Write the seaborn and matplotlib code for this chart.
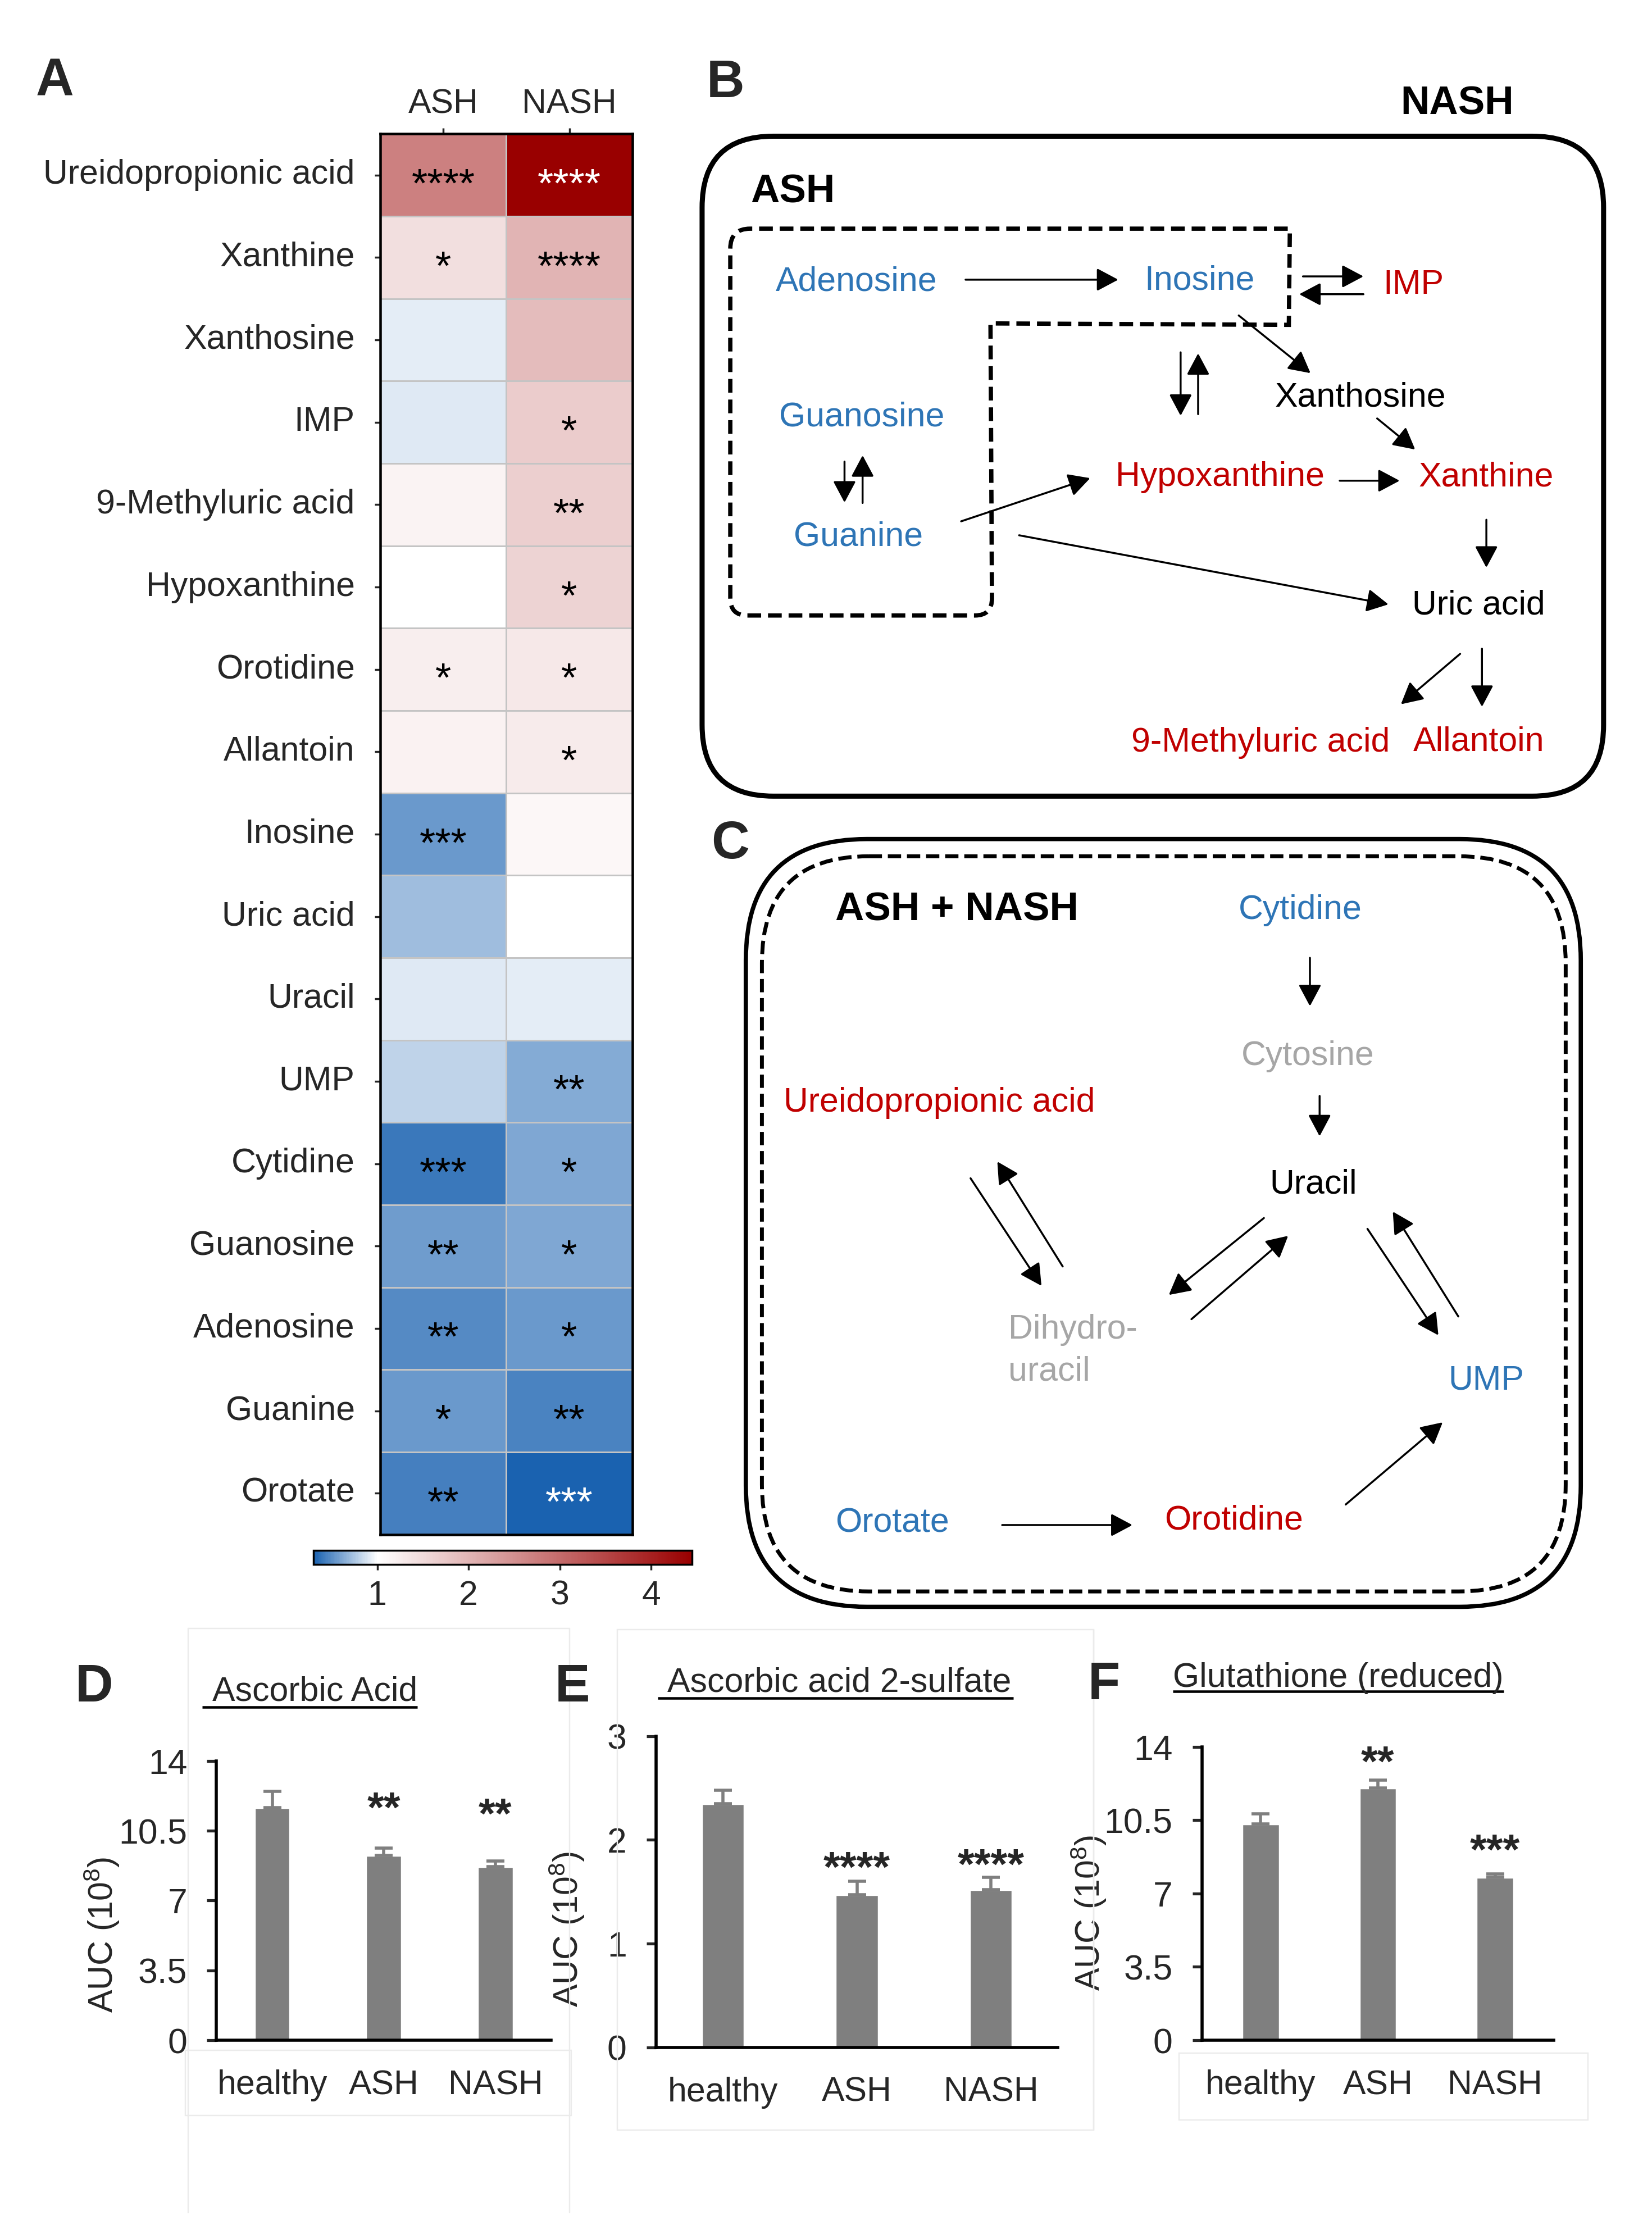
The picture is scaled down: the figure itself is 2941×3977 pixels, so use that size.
import matplotlib
matplotlib.use("Agg")
import matplotlib.pyplot as plt
import numpy as np
import pandas as pd
import seaborn as sns
from matplotlib import font_manager
from matplotlib.colors import LinearSegmentedColormap
from matplotlib.patches import FancyBboxPatch, PathPatch
from matplotlib.path import Path

# layout grid: the reference at ~1/2.535 scale (1160 x 1568 units)
W, H = 1160, 1568
DPI = 250

BLUE = "#2e75b6"
RED = "#c00000"
GREY_TXT = "#a6a6a6"
BAR = "#7f7f7f"
FAINT = "#ebebeb"

# ---- panel A data (fold change vs healthy) ----
metabolites = ["Ureidopropionic acid", "Xanthine", "Xanthosine", "IMP", "9-Methyluric acid",
               "Hypoxanthine", "Orotidine", "Allantoin", "Inosine", "Uric acid", "Uracil", "UMP",
               "Cytidine", "Guanosine", "Adenosine", "Guanine", "Orotate"]
ash_fc = [2.73, 1.45, 0.92, 0.90, 1.16, 1.01, 1.24, 1.19, 0.55, 0.72, 0.91, 0.81,
          0.41, 0.575, 0.48, 0.545, 0.43]
nash_fc = [4.45, 2.01, 1.91, 1.69, 1.65, 1.60, 1.31, 1.28, 1.12, 1.00, 0.92, 0.63,
           0.62, 0.62, 0.55, 0.45, 0.30]
ash_sig = ["****", "*", "", "", "", "", "*", "", "***", "", "", "", "***", "**", "**", "*", "**"]
nash_sig = ["****", "****", "", "*", "**", "*", "*", "*", "", "", "", "**", "*", "*", "*", "**", "***"]
cbar_ticks = [1, 2, 3, 4]
FC_MIN, FC_MID, FC_MAX = 0.30, 1.0, 4.45

# ---- panels D-F data ----
groups = ["healthy", "ASH", "NASH"]
asc_mean = [11.66, 9.27, 8.70]
asc_sem = [0.81, 0.36, 0.29]
asc_sig = ["", "**", "**"]
asc_sig_y = [0, 12.2, 11.9]
sulf_mean = [2.35, 1.47, 1.52]
sulf_sem = [0.13, 0.13, 0.12]
sulf_sig = ["", "****", "****"]
sulf_sig_y = [0, 1.84, 1.87]
gsh_mean = [10.32, 12.04, 7.78]
gsh_sem = [0.48, 0.37, 0.15]
gsh_sig = ["", "**", "***"]
gsh_sig_y = [0, 13.8, 9.6]
ticks_14 = [0, 3.5, 7, 10.5, 14]
ticks_3 = [0, 1, 2, 3]

sns.set_style("ticks")
plt.rcParams.update({
    "font.family": ["Liberation Sans", "DejaVu Sans"],
    "mathtext.fontset": "custom",
    "mathtext.rm": "Liberation Sans",
    "mathtext.it": "Liberation Sans:italic",
    "mathtext.bf": "Liberation Sans:bold",
    "axes.linewidth": 1.5,
})

names = {f.name for f in font_manager.fontManager.ttflist}
if "Liberation Sans Narrow" in names:
    PW_FAM, PW_FS, PW_BOLD = ["Liberation Sans Narrow", "Liberation Sans"], 21, 24.5
else:
    PW_FAM, PW_FS, PW_BOLD = ["Liberation Sans", "DejaVu Sans"], 17.5, 20.5
FS = 17.5


def rect(l, t, r, b):
    return [l / W, 1 - b / H, (r - l) / W, (b - t) / H]


def rounded_poly(pts, radii):
    pts = [np.asarray(p, float) for p in pts]
    n = len(pts)
    verts, codes = [], []
    for i in range(n):
        p_prev, p, p_next = pts[i - 1], pts[i], pts[(i + 1) % n]
        r = radii[i]
        if r <= 0:
            verts.append(p)
            codes.append(Path.LINETO)
            continue
        a = p + (p_prev - p) / np.linalg.norm(p_prev - p) * r
        b = p + (p_next - p) / np.linalg.norm(p_next - p) * r
        verts += [a, p, b]
        codes += [Path.LINETO, Path.CURVE3, Path.CURVE3]
    codes[0] = Path.MOVETO
    verts.append(verts[0])
    codes.append(Path.CLOSEPOLY)
    return Path(verts, codes)


fig = plt.figure(figsize=(2941 / DPI, 3977 / DPI), dpi=DPI)
fig.patch.set_facecolor("white")

# ---------------- A: heatmap ----------------
ax_hm = fig.add_axes(rect(267, 94, 444, 1077))
cax = fig.add_axes(rect(220, 1088, 486, 1098))
mid = (FC_MID - FC_MIN) / (FC_MAX - FC_MIN)
cmap = LinearSegmentedColormap.from_list("fc", [(0, "#1a62b0"), (mid, "#ffffff"), (1, "#990000")])
df = pd.DataFrame({"ASH": ash_fc, "NASH": nash_fc}, index=metabolites)
annot = np.array([ash_sig, nash_sig]).T
sns.heatmap(df, ax=ax_hm, cmap=cmap, vmin=FC_MIN, vmax=FC_MAX, annot=annot, fmt="",
            linewidths=0.8, linecolor="#c4c4c4", cbar_ax=cax,
            cbar_kws={"orientation": "horizontal", "ticks": cbar_ticks},
            annot_kws={"fontsize": 21, "color": "black"})
for t in ax_hm.texts:
    x, y = t.get_position()
    v = df.iloc[int(y), int(x)]
    if v > 4.0 or v < 0.35:
        t.set_color("white")
    t.set_y(y + 0.14)
ax_hm.xaxis.tick_top()
ax_hm.tick_params(axis="x", length=3, width=1, pad=4, labelsize=FS, labelrotation=0)
ax_hm.tick_params(axis="y", length=3, width=1, pad=10, labelsize=FS, labelrotation=0)
ax_hm.set_xlabel("")
ax_hm.set_ylabel("")
for sp in ax_hm.spines.values():
    sp.set_visible(True)
    sp.set_color("black")
    sp.set_linewidth(1.3)
cbar = ax_hm.collections[0].colorbar
cbar.outline.set_edgecolor("black")
cbar.outline.set_linewidth(1.0)
cax.tick_params(labelsize=FS, length=3, width=1, pad=5)
cax.set_xticklabels([str(v) for v in cbar_ticks])


# ---------------- D, E, F: bar charts ----------------
def bar_panel(box, means, sems, sig, sig_y, ylim, yticks, ytl, ylab_xy):
    ax = fig.add_axes(rect(*box))
    sns.barplot(x=groups, y=means, ax=ax, color=BAR, saturation=1, width=0.32, errorbar=None)
    ax.errorbar(np.arange(len(groups)), means, yerr=[np.zeros(len(groups)), sems], fmt="none",
                ecolor=BAR, elinewidth=1.6, capsize=4.5, capthick=1.6, zorder=1)
    for i, (s, y) in enumerate(zip(sig, sig_y)):
        if s:
            ax.annotate(s, xy=(i, y), xytext=(0, -0.32 * 22), textcoords="offset points",
                        ha="center", va="center", fontsize=22, fontweight="bold")
    ax.set_xlim(-0.5, 2.5)
    ax.set_ylim(*ylim)
    ax.set_yticks(yticks)
    ax.set_yticklabels(ytl)
    ax.tick_params(axis="y", length=5, width=1.5, pad=10, labelsize=FS + 0.5)
    ax.tick_params(axis="x", length=0, pad=15, labelsize=FS)
    ax.set_xlabel("")
    ax.set_ylabel("AUC (10$^8$)", fontsize=FS)
    ax.yaxis.set_label_coords(*ylab_xy)
    ax.yaxis.label.set_va("center")
    sns.despine(ax=ax)
    for sp in ("left", "bottom"):
        ax.spines[sp].set_color("black")
        ax.spines[sp].set_linewidth(1.6)
    ax.patch.set_alpha(0)
    return ax


bar_panel((152, 1236, 387, 1432), asc_mean, asc_sem, asc_sig, asc_sig_y, (0, 14), ticks_14,
          ["0", "3.5", "7", "10.5", "14"], (-0.343, 0.378))
bar_panel((460.6, 1218.6, 742.8, 1437), sulf_mean, sulf_sem, sulf_sig, sulf_sig_y, (0, 3), ticks_3,
          ["0", "1", "2", "3"], (-0.222, 0.38))
bar_panel((844, 1226, 1091, 1432), gsh_mean, gsh_sem, gsh_sig, gsh_sig_y, (0, 14), ticks_14,
          ["0", "3.5", "7", "10.5", "14"], (-0.322, 0.434))

# ---------------- overlay: pathway diagrams, letters, titles ----------------
ov = fig.add_axes([0, 0, 1, 1], zorder=10)
ov.set_xlim(0, W)
ov.set_ylim(H, 0)
ov.axis("off")
ov.patch.set_alpha(0)


def node(x, y, s, color="black", **kw):
    ov.text(x, y, s, color=color, ha=kw.pop("ha", "center"), va="center",
            fontsize=kw.pop("fontsize", PW_FS), family=kw.pop("family", PW_FAM), **kw)


def arrow(x0, y0, x1, y1):
    ov.annotate("", xy=(x1, y1), xytext=(x0, y0),
                arrowprops=dict(arrowstyle="-|>,head_length=0.47,head_width=0.25", mutation_scale=20,
                                lw=1.0, color="black", shrinkA=0, shrinkB=0))


# panel letters
for s, x, y in [("A", 38.6, 57.7), ("B", 509.3, 58.4), ("C", 512.8, 592.6),
                ("D", 66, 1184.5), ("E", 402, 1184.5), ("F", 775, 1183)]:
    ov.text(x, y, s, ha="center", va="center", fontsize=27, fontweight="bold")

# faint frame lines around pasted panels
for xs, ys in [([132, 132], [1143, 1553]), ([132, 400], [1143, 1143]), ([400, 400], [1143, 1553]),
               ([768, 768], [1143.6, 1495])]:
    ov.plot(xs, ys, color=FAINT, lw=0.7)
for l, t, r, b in [(130, 1439, 401, 1485), (433.5, 1143.6, 768, 1495), (828, 1441, 1115, 1488)]:
    ov.add_patch(plt.Rectangle((l, t), r - l, b - t, fill=False, ec=FAINT, lw=0.7))

# bar chart titles (underlined)
for s, x0, xt, x1, yb, yu in [("Ascorbic Acid", 142, 149, 293, 1193.7, 1198),
                              ("Ascorbic acid 2-sulfate", 462, 468.6, 711.6, 1187.5, 1191.8),
                              ("Glutathione (reduced)", 823.6, 823.6, 1056, 1183.8, 1187.2)]:
    ov.text(xt, yb, s, ha="left", va="baseline", fontsize=FS)
    ov.plot([x0, x1], [yu, yu], color="black", lw=1.3, solid_capstyle="butt")

# ---- B: purine pathway ----
ov.add_patch(FancyBboxPatch((493, 95.6), 1126 - 493, 558.8 - 95.6,
                            boxstyle="round,pad=0,rounding_size=50", fill=False, ec="black", lw=2.6))
ov.add_patch(PathPatch(rounded_poly([(512.8, 160.5), (905.7, 160.5), (905, 228), (695.5, 227),
                                     (696.6, 432), (512.8, 432)], [14, 0, 0, 0, 12, 12]),
                       fill=False, ec="black", lw=2.2, ls=(0, (3.2, 1.6))))
node(1023, 73, "NASH", fontweight="bold", fontsize=PW_BOLD)
node(556.6, 135, "ASH", fontweight="bold", fontsize=PW_BOLD)
node(601.3, 198, "Adenosine", BLUE)
node(842.2, 197, "Inosine", BLUE)
node(992.4, 200, "IMP", RED)
node(955.2, 279, "Xanthosine")
node(605.2, 293, "Guanosine", BLUE)
node(856.7, 335, "Hypoxanthine", RED)
node(1043.7, 335, "Xanthine", RED)
node(602.6, 377, "Guanine", BLUE)
node(1038.4, 425, "Uric acid")
node(885.1, 521.6, "9-Methyluric acid", RED)
node(1038.4, 521, "Allantoin", RED)
for a in [(678, 196.3, 785.2, 196.3), (914.9, 194, 957.4, 194), (957.4, 206.5, 912.3, 206.5),
          (869.8, 221.4, 920.2, 261.9), (829, 247.3, 829, 291.8), (841.3, 290.7, 841.3, 248),
          (967, 293.7, 993.7, 315.5), (593, 324, 593, 352.7), (605.7, 353, 605.7, 319.6),
          (674.9, 365.9, 765.5, 335.6), (940.7, 337.4, 982.8, 337.4), (1043.7, 364.8, 1043.7, 398.4),
          (715.6, 375.7, 974.9, 424.2), (1025.3, 458.9, 983.7, 494.3), (1040.6, 455.3, 1040.6, 496.1)]:
    arrow(*a)

# ---- C: pyrimidine pathway ----
ov.add_patch(FancyBboxPatch((523.7, 588.9), 1110 - 523.7, 1127.8 - 588.9,
                            boxstyle="round,pad=0,rounding_size=85", fill=False, ec="black", lw=2.2))
ov.add_patch(FancyBboxPatch((535, 601), 1099.4 - 535, 1117 - 601,
                            boxstyle="round,pad=0,rounding_size=75", fill=False, ec="black", lw=2.0,
                            ls=(0, (3.4, 1.5))))
node(671.8, 639, "ASH + NASH", fontweight="bold", fontsize=PW_BOLD)
node(912.9, 639, "Cytidine", BLUE)
node(918.5, 741.5, "Cytosine", GREY_TXT)
node(659.5, 774.2, "Ureidopropionic acid", RED)
node(922.4, 831.5, "Uracil")
node(708, 933.5, "Dihydro-", GREY_TXT, ha="left")
node(708, 962.9, "uracil", GREY_TXT, ha="left")
node(1043.7, 969, "UMP", BLUE)
node(626.4, 1069.2, "Orotate", BLUE)
node(866.2, 1067.3, "Orotidine", RED)
for a in [(919.8, 672.3, 919.8, 706.2), (926.6, 769.2, 926.6, 797.5), (681.5, 827, 731.3, 902.5),
          (746.2, 888.9, 700.3, 815.3), (887.5, 854.9, 820.7, 908.9), (836.6, 925.9, 904.5, 867.4),
          (960.2, 862.5, 1010, 937.2), (1024, 924, 978, 850.4), (703.7, 1070.4, 795.2, 1070.4),
          (944.9, 1056, 1013, 998.3)]:
    arrow(*a)

fig.savefig("out.png", dpi=DPI, facecolor="white")
